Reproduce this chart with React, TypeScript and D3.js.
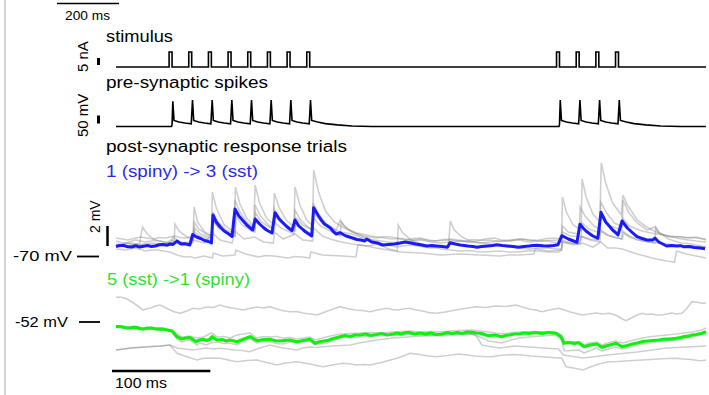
import React from "react";
import * as d3 from "d3";

// time in ms, traces as [t, value]
const stimTimes = [54, 74, 94, 114, 134, 154, 174, 194, 448, 468, 488, 508];
const stimAmp = 10; // nA
const stimWidth = 3; // ms

const preSpikes: [number, number][] = [
  [0, -65], [56.5, -65], [57, -58], [57.8, 30], [59, -42], [64, -48], [70, -52], [76.5, -55],
  [77.8, 35], [79, -42], [84, -48], [90, -52], [96.5, -55],
  [97.8, 35], [99, -42], [104, -48], [110, -52], [116.5, -55],
  [117.8, 35], [119, -42], [124, -48], [130, -52], [136.5, -55],
  [137.8, 35], [139, -42], [144, -48], [150, -52], [156.5, -55],
  [157.8, 35], [159, -42], [164, -48], [170, -52], [176.5, -55],
  [177.8, 35], [179, -42], [184, -48], [190, -52], [196.5, -55],
  [197.8, 35], [199, -42], [205, -48], [213, -54], [225, -59], [240, -63], [260, -65],
  [450.5, -65], [451, -58], [451.8, 35], [453, -42], [458, -48], [464, -52], [470.5, -55],
  [471.8, 35], [473, -42], [478, -48], [484, -52], [490.5, -55],
  [491.8, 35], [493, -42], [498, -48], [504, -52], [510.5, -55],
  [511.8, 35], [513, -42], [519, -48], [527, -54], [539, -59], [554, -63], [574, -65], [600, -65],
];

// 1 (spiny) -> 3 (sst), mV above -70 mV
const blueMean: [number, number][] = [
  [0, -0.05], [4, 0.05], [8, 0.05], [12, -0.08], [16, -0.1], [20, 0.02], [24, -0.1], [28, -0.02],
  [32, 0.05], [36, -0.05], [40, 0], [44, 0.12], [48, 0.15], [52, 0.08], [55, 0.2], [58, 0.15],
  [62, 0.5], [66, 0.2], [70, 0.22], [75, 0.1], [78, 1.15], [82, 0.9], [86, 0.75], [90, 0.55], [94, 0.45], [97, 0.3],
  [98.6, 3.1], [102, 2.4], [106, 1.9], [110, 1.5], [114, 1.25], [118, 0.95], [121, 3.7], [125, 3.0],
  [129, 2.55], [133, 2.1], [136, 1.85], [139, 1.6], [141.5, 2.7], [146, 2.2], [150, 1.85], [153, 1.6],
  [158.6, 1.3], [161.7, 3.33], [166, 2.7], [170, 2.3], [173, 2.0], [176, 1.75], [179, 1.53],
  [182, 2.6], [186, 2.0], [190, 1.65], [193, 1.4], [196, 1.2], [199, 1.0], [201, 3.83], [206, 3.0],
  [209, 2.55], [212, 2.2], [215, 2.0], [218, 1.8], [221, 1.45], [224, 1.2], [228, 1.33], [231, 1.15],
  [234, 1.0], [239, 0.85], [245, 0.65], [249, 0.6], [253, 0.5], [255, 0.7], [260, 0.4], [266, 0.3],
  [271, 0.1], [277, 0.15], [283, 0.2], [289, 0.3], [294, 0.4], [300, 0.3], [305, 0.2], [311, 0.1],
  [316, 0], [321, 0.05], [326, 0], [332, -0.05], [337, -0.13], [339.7, 0.33], [345, 0.2], [350, 0.1],
  [354, 0.05], [358, 0], [363, -0.05], [367, -0.13], [372, -0.05], [378, 0], [383, 0.05], [387, 0.13],
  [393, 0.05], [398, 0], [404, -0.05], [409, -0.13], [415, -0.05], [420, 0], [424, 0.05], [428, 0.07],
  [434, 0.02], [440, 0], [445, 0.05], [449.5, 0.13], [453.5, 1.03], [457, 0.85], [460, 0.7],
  [464, 0.55], [468.8, 0.37], [471.8, 2.17], [475, 1.8], [478, 1.5], [482, 1.2], [485, 1.0],
  [490, 0.77], [493.2, 3.37], [498, 2.4], [502, 1.95], [505, 1.6], [508, 1.35], [510.5, 1.1],
  [514.6, 2.5], [520, 1.8], [525, 1.35], [529.8, 0.93], [535, 0.75], [540, 0.6], [546, 0.6],
  [548, 0.8], [552, 0.4], [556, 0.2], [560, 0], [565, 0.05], [570, 0], [574, 0.03],
  [577, -0.07], [583, -0.05], [588, -0.15], [594, -0.2], [599, -0.27],
];

const blueTrials: [number, number][][] = [
  [
    [0, 0.5], [5, 0.35], [10, 0.3], [15, 0.45], [20, 0.6], [25, 0.5], [30, 0.4], [38, 0.55], [45, 0.5],
    [50, 0.35], [55, 0.3], [60, 0.45], [65, 0.4], [72, 0.25], [78, 0.3],
    [79.5, 3.9], [83, 2.4], [90, 1.4], [97, 1.0], [98, 5.4], [102, 3.8], [110, 2.1], [120, 1.4],
    [121.5, 5.9], [126, 4.2], [133, 2.8], [140, 2.0], [141.5, 6.1], [146, 4.3], [153, 2.8], [160, 2.2],
    [161, 5.3], [166, 3.8], [173, 2.6], [181, 1.9], [182, 5.9], [187, 4.1], [194, 2.6], [200, 2.0],
    [201, 7.6], [206, 5.4], [213, 3.5], [222, 2.4], [232, 1.8], [245, 1.3], [260, 1.0], [270, 0.85],
    [280, 0.7], [290, 0.75], [300, 0.6], [310, 0.7], [320, 0.5], [330, 0.55], [340, 0.6], [350, 0.5],
    [360, 0.4], [370, 0.55], [380, 0.6], [390, 0.45], [400, 0.5], [410, 0.6], [420, 0.4], [430, 0.5],
    [440, 0.5], [447, 0.35], [453, 0.4], [454, 4.9], [458, 3.4], [465, 2.1], [473, 1.6], [474, 6.7],
    [478, 4.9], [485, 3.2], [492, 2.4], [493.5, 8.3], [498, 6.3], [505, 4.3], [514, 3.1], [515.5, 5.1],
    [520, 4.1], [530, 2.6], [538, 2.0], [545, 1.6], [552, 1.3], [560, 1.0], [568, 0.85], [575, 0.7],
    [582, 0.6], [590, 0.5], [600, 0.4],
  ],
  [
    [0, 0.8], [6, 0.7], [12, 0.6], [18, 0.75], [25, 0.9], [31, 0.8], [38, 0.7], [44, 0.85], [50, 0.8],
    [55, 0.9], [60, 1.0], [65, 0.85], [70, 0.8], [79, 0.9],
    [79.5, 2.4], [84, 1.7], [92, 1.2], [98, 1.0], [98.6, 3.4], [103, 2.5], [112, 1.6], [120, 1.3],
    [121, 4.6], [126, 3.4], [134, 2.3], [141, 1.8], [141.5, 4.1], [147, 3.0], [155, 2.1], [160, 1.8],
    [160.7, 3.8], [166, 2.8], [174, 2.0], [181, 1.6], [182, 3.6], [187, 2.7], [195, 1.9], [200, 1.6],
    [200.5, 4.3], [206, 3.2], [214, 2.2], [224, 1.6], [228, 2.6], [232, 2.0], [240, 1.4], [252, 1.0],
    [258, 0.9], [265, 0.8], [272, 0.95], [280, 0.9], [288, 0.75], [295, 0.6], [302, 0.75], [310, 0.8],
    [318, 0.6], [325, 0.5], [333, 0.65], [340, 0.7], [348, 0.6], [355, 0.5], [362, 0.65], [370, 0.6],
    [378, 0.75], [385, 0.8], [392, 0.6], [400, 0.5], [408, 0.65], [415, 0.7], [422, 0.55], [430, 0.6],
    [438, 0.75], [445, 0.8], [453, 0.7], [454, 2.0], [460, 1.4], [471, 1.2], [472, 3.9], [477, 3.0],
    [486, 2.0], [492, 1.7], [493, 4.4], [499, 3.3], [507, 2.3], [515, 1.9], [515.5, 4.6], [521, 3.4],
    [530, 2.3], [540, 1.6], [548, 1.9], [552, 1.3], [558, 1.1], [565, 0.9], [572, 0.95], [580, 0.8],
    [590, 0.9], [600, 0.6],
  ],
  [
    [0, -0.3], [5, -0.35], [10, -0.4], [15, -0.3], [20, -0.2], [25, -0.35], [30, -0.5], [36, -0.4],
    [42, -0.4], [48, -0.5], [55, -0.6], [62, -0.9], [70, -1.1], [75, -1.05],
    [80, -1.2], [90, -1.0], [98, -1.2], [99, -0.7], [108, -1.0], [121, -0.9], [122, -0.4], [132, -0.8],
    [145, -1.1], [152, -0.95], [160, -1.0], [168, -1.1], [175, -1.2], [182, -1.05], [190, -1.1],
    [197, -1.2], [198, -0.6], [210, -0.9], [220, -0.95], [230, -1.0], [238, -1.05], [244, -1.1],
    [246, 0.1], [255, 0], [262, 0.1], [270, 0.2], [278, 0.05], [285, -0.1], [292, 0.0], [300, 0.1],
    [310, -0.05], [320, -0.2], [330, -0.1], [338, -0.1], [340, 2.5], [344, 1.6], [352, 0.9], [358, 0.6],
    [365, 0.4], [372, 0.3], [380, 0.2], [390, 0.05], [400, -0.1], [410, -0.2], [420, -0.3], [430, -0.2],
    [440, -0.2], [447, -0.3], [453, -0.3], [454, 0.4], [462, 0.3], [470, 0.2], [474, 0.9], [482, 0.7],
    [490, 0.6], [493, 1.5], [499, 1.1], [505, 0.9], [515, 0.7], [516, 1.3], [522, 0.9], [530, 0.6],
    [540, 0.45], [550, 0.3], [560, 0.2], [570, 0.1], [578, 0.05], [585, 0], [592, -0.05], [600, -0.1],
  ],
  [
    [0, 0.2], [6, 0.1], [12, 0.0], [18, 0.15], [24, 0.3], [27, 1.9], [31, 1.3], [38, 0.7], [44, 0.5],
    [50, 0.4], [55, 0.35], [59, 0.3], [60, 2.2],
    [64, 1.5], [72, 0.9], [79, 0.8], [80, 1.8], [86, 1.2], [97, 0.8], [98, 2.6], [104, 1.8], [114, 1.2],
    [121, 1.0], [122, 3.0], [128, 2.1], [138, 1.5], [141, 1.4], [142, 2.5], [150, 1.8], [160, 1.3],
    [161, 2.4], [168, 1.8], [181, 1.2], [182, 2.2], [190, 1.6], [200, 1.2], [201, 2.8], [208, 2.0],
    [220, 1.4], [228, 1.0], [229, 2.4], [235, 1.7], [245, 1.2], [252, 0.9], [260, 0.6], [268, 0.2],
    [275, -0.2], [280, -0.35], [286, -0.5], [287, 2.1], [291, 1.4], [300, 0.6], [308, 0.3], [315, 0.1],
    [322, -0.1], [330, -0.3], [340, -0.4], [350, -0.5], [360, -0.45], [370, -0.6], [380, -0.55],
    [390, -0.5], [400, -0.6], [410, -0.6], [420, -0.45], [430, -0.5], [440, -0.6], [450, -0.6], [453, -0.4], [454, 0.6], [462, 0.3], [472, 0.2], [473, 1.0],
    [482, 0.6], [492, 0.4], [493, 1.6], [500, 1.1], [514, 0.7], [515, 1.5], [522, 1.0], [535, 0.5],
    [548, 0.3], [549, 1.9], [553, 1.3], [562, 0.7], [568, 0.5], [575, 0.3], [582, 0.25], [590, 0.1],
    [600, -0.1],
  ],
  [
    [0, 0.1], [8, 0.2], [15, 0.3], [22, 0.15], [30, 0.0], [38, 0.1], [45, 0.2], [55, 0.1], [58, 0.9],
    [65, 0.4], [75, 0.2], [79, 0.6],
    [90, 0.3], [98, 1.3], [106, 0.6], [118, 0.3], [121, 1.5], [130, 0.7], [141, 0.9], [150, 0.4],
    [160, 0.3], [161, 1.4], [170, 0.7], [182, 1.2], [190, 0.6], [200, 0.5], [201, 1.8], [210, 1.0],
    [218, 0.7], [225, 0.5], [232, 0.35], [240, 0.2], [248, 0.1], [255, 0.0], [262, -0.15], [270, -0.3],
    [280, -0.45], [290, -0.6], [300, -0.65], [310, -0.7], [320, -0.8], [330, -0.9], [340, -0.85],
    [350, -0.8], [360, -0.85], [370, -0.9], [380, -0.95], [390, -1.0], [400, -0.9], [410, -0.9],
    [418, -0.85], [425, -0.8], [426, -0.3], [433, -0.4], [440, -0.5], [447, -0.45], [453, -0.4], [454, 0.4],
    [465, 0.1], [474, 0.3], [485, -0.1], [493, 0.4], [500, -0.2], [508, -0.2], [515, -0.3], [522, -0.55],
    [530, -0.8], [538, -1.0], [545, -1.2], [552, -1.35], [560, -1.5], [568, -1.6], [570, -0.5],
    [575, -0.65], [580, -0.8], [585, -0.9], [590, -1.0], [595, -1.1], [600, -1.2],
  ],
  [
    [0, 0.0], [5, 0.15], [10, 0.3], [15, 0.2], [20, 0.1], [28, 0.2], [35, 0.3], [42, 0.25], [50, 0.2],
    [56, 0.6], [62, 0.3], [70, 0.35], [78, 0.4], [79, 1.5],
    [85, 1.0], [97, 0.6], [98, 2.7], [104, 1.9], [115, 1.2], [121, 1.0], [122, 3.5], [128, 2.5],
    [138, 1.7], [141, 1.5], [142, 3.3], [148, 2.4], [159, 1.7], [161, 1.6], [162, 3.0], [168, 2.3],
    [180, 1.6], [182, 1.5], [183, 2.8], [190, 2.1], [200, 1.6], [201, 3.4], [207, 2.6], [218, 1.8],
    [228, 1.4], [240, 1.2], [248, 0.9], [255, 0.7], [262, 0.6], [270, 0.5], [280, 0.35], [290, 0.4],
    [300, 0.5], [310, 0.6], [320, 0.4], [330, 0.3], [340, 0.4], [350, 0.5], [360, 0.4], [370, 0.3],
    [380, 0.4], [390, 0.5], [400, 0.6], [410, 0.7], [420, 0.6], [430, 0.5], [440, 0.55], [450, 0.6],
    [454, 1.4], [462, 1.0], [473, 0.9],
    [474, 2.3], [481, 1.7], [492, 1.3], [493, 2.9], [500, 2.1], [514, 1.6], [515, 2.8], [522, 2.0],
    [535, 1.5], [542, 1.35], [550, 1.2], [562, 1.0], [568, 0.95], [575, 0.9], [582, 0.85], [590, 0.8],
    [600, 0.7],
  ],
];

// 5 (sst) -> 1 (spiny), mV relative to -52 mV
const greenMean: [number, number][] = [
  [0, -0.47], [4, -0.45], [7, -0.5], [10, -0.58], [14.2, -0.6], [18, -0.52], [21, -0.55], [24, -0.65],
  [27.5, -0.7], [32, -0.6], [37, -0.62], [42, -0.72], [46.8, -0.7], [52, -0.8], [57, -0.9],
  [62, -1.47], [67, -1.7], [71, -1.6], [75.3, -1.57], [81.4, -1.97], [85, -1.8], [88.5, -1.73],
  [92, -1.85], [95.6, -1.73], [97.6, -1.47], [102.7, -1.8], [108, -1.75], [112, -1.9], [116, -1.8],
  [123, -1.97], [130, -1.7], [136.3, -1.47], [143.4, -1.87], [150, -1.75], [156.6, -1.73],
  [163, -1.9], [169.8, -1.87], [177, -1.8], [184, -1.97], [190, -1.85], [197.3, -1.73], [202.4, -2.13],
  [208, -1.95], [214.6, -1.87], [221, -1.65], [227.8, -1.47], [233, -1.35], [238, -1.45], [243, -1.3],
  [248, -1.3], [254, -1.2], [259, -1.35], [265, -1.25], [270, -1.15], [276, -1.3], [281.7, -1.2],
  [286, -1.1], [290, -1.2], [295, -1.05], [299, -1.07], [304, -1.2], [309, -1.1], [315, -1.2],
  [320, -1.1], [326, -1.25], [331.5, -1.2], [337, -1.05], [342, -1.15], [347, -1.05], [352, -1.15],
  [357, -1.0], [362, -1.03], [367, -1.1], [372, -1.15], [376, -1.3], [379.3, -1.37], [385, -1.3],
  [392.5, -1.47], [396, -1.35], [400, -1.3], [405, -1.2], [409.8, -1.2], [415, -1.1], [420, -1.15],
  [426, -1.05], [433.2, -1.13], [440, -1.05], [447.4, -1.13], [452.5, -1.47], [455.6, -2.13],
  [460, -2.05], [466, -2.15], [470.8, -2.07], [476, -2.47], [482, -2.3], [489, -2.2], [494.2, -2.53],
  [500, -2.35], [504, -2.25], [508.5, -2.13], [514.6, -2.47], [520, -2.35], [525, -2.2], [530, -2.1],
  [534.9, -1.97], [540, -1.9], [546, -1.85], [552, -1.8], [558, -1.7], [563, -1.72], [569.5, -1.63],
  [574, -1.55], [578, -1.45], [582, -1.42], [585.7, -1.3], [590, -1.25], [596, -1.13], [600, -0.97],
];

const greenTrials: [number, number][][] = [
  [
    [0, 2.47], [4, 2.5], [9.2, 2.37], [13, 2.2], [18, 1.9], [22, 1.6], [27.5, 1.2], [32, 1.35], [36, 1.4],
    [40, 1.6], [44.7, 1.7], [50, 1.45], [55, 1.2], [60, 1.0], [65.1, 0.87], [72, 1.1], [78.3, 1.37],
    [85, 1.3], [92, 1.5], [99, 1.45], [105.8, 1.7], [112, 1.5], [118, 1.4], [124, 1.3], [129.2, 1.2],
    [136, 1.35], [143, 1.5], [150, 1.4], [156.6, 1.53], [162, 1.35], [167, 1.2], [172, 1.1], [177, 1.03],
    [184, 1.05], [190, 0.9], [197, 0.8], [204.4, 0.7], [210, 0.9], [215, 1.1], [221, 1.3], [227.8, 1.53],
    [235, 1.35], [243, 1.2], [250, 1.15], [258.3, 1.03], [266, 1.2], [275.6, 1.37], [281, 1.25],
    [287, 1.2], [292, 1.3], [298, 1.37], [305, 1.2], [312, 1.1], [318, 0.95], [325.4, 0.87], [335, 1.0],
    [345, 1.2], [355, 1.35], [366.1, 1.53], [376, 1.45], [386, 1.6], [396, 1.55], [406.8, 1.7],
    [413, 1.5], [420, 1.3], [427, 1.2], [433.2, 1.03], [441, 1.2], [450.5, 1.37], [456, 1.2], [462, 1.0],
    [468, 0.85], [473.9, 0.7], [481, 0.8], [488, 0.9], [495, 0.8], [501.4, 0.87], [506, 0.75],
    [510, 0.6], [514, 0.35], [518.6, 0.13], [522, 0.3], [526, 0.5], [530, 0.7], [534.9, 0.87],
    [540, 0.75], [545, 0.8], [550, 0.7], [555.3, 0.7], [560, 0.8], [565, 0.9], [570, 0.8], [575.6, 0.87],
    [580, 1.3], [585.7, 2.03], [590, 2.0], [596, 1.87], [600, 1.9],
  ],
  [
    [0, -0.5], [7, -0.6], [14, -0.7], [20, -0.65], [27, -0.8], [37, -0.7], [47, -0.8], [52, -0.85],
    [57, -1.0], [62, -1.7], [67, -2.0], [71, -1.85], [75, -1.8], [79, -2.05],
    [82, -2.3], [85, -2.1], [89, -2.2], [92, -2.3], [96, -2.1], [100, -2.05], [103, -2.0], [110, -2.15],
    [116, -2.1], [123, -2.3], [130, -1.9], [136, -1.6], [140, -1.9], [143, -2.1], [150, -1.95],
    [157, -2.0], [163, -2.15], [170, -2.2], [177, -2.0], [184, -2.1], [190, -2.0], [197, -1.9],
    [203, -2.3], [209, -2.15], [215, -2.1], [221, -1.8], [228, -1.6], [238, -1.55], [248, -1.5],
    [258, -1.45], [270, -1.35], [282, -1.3], [290, -1.35], [299, -1.2], [308, -1.3], [318, -1.35],
    [331, -1.4], [340, -1.3], [350, -1.25], [362, -1.2], [370, -1.5], [379, -1.9], [386, -2.0],
    [392, -2.1], [400, -1.85], [410, -1.6], [420, -1.5], [433, -1.4], [440, -1.35], [447, -1.3],
    [453, -1.8], [456, -2.9], [463, -2.85], [471, -2.8], [476, -3.1], [482, -2.85], [489, -2.6],
    [494, -2.9], [500, -2.75], [508, -2.5], [515, -2.7], [525, -2.45], [535, -2.2], [545, -2.05],
    [555, -1.95], [570, -1.8], [578, -1.65], [586, -1.5], [593, -1.35], [600, -1.2],
  ],
  [
    [0, -0.4], [7, -0.45], [14, -0.5], [20, -0.45], [27, -0.6], [37, -0.55], [47, -0.6], [52, -0.7],
    [57, -0.8], [62, -1.2], [67, -1.5], [75, -1.4],
    [82, -1.6], [89, -1.5], [97, -1.1], [103, -1.5], [110, -1.45], [116, -1.6], [123, -1.3], [130, -1.2],
    [136, -1.1], [143, -1.6], [150, -1.45], [157, -1.5], [163, -1.45], [170, -1.6], [177, -1.55],
    [184, -1.7], [190, -1.6], [197, -1.5], [203, -1.8], [210, -1.6], [218, -1.4], [228, -1.2],
    [238, -1.15], [248, -1.1], [258, -1.05], [270, -1.1], [282, -1.0], [290, -0.95], [299, -0.9],
    [310, -1.0], [320, -0.95], [331, -1.0], [340, -0.9], [350, -0.85], [362, -0.8], [370, -0.9],
    [379, -1.0], [386, -1.1], [392, -1.2], [400, -1.1], [410, -1.0], [420, -0.95], [433, -1.0],
    [440, -0.95], [447, -1.0], [453, -1.3], [456, -2.0], [463, -1.95], [471, -2.0], [476, -2.3],
    [482, -2.1], [489, -2.0], [494, -2.3], [500, -2.1], [508, -1.9], [515, -2.1], [525, -1.85],
    [535, -1.6], [545, -1.45], [555, -1.35], [570, -1.2], [578, -1.1], [586, -1.0], [596, -0.8],
    [600, -0.6],
  ],
  [
    [0, -2.8], [8, -2.7], [15, -2.6], [22, -2.55], [31.5, -2.5], [38, -2.45], [45, -2.4], [50, -2.35],
    [55, -2.3], [62, -2.6], [70, -2.7], [78.3, -2.8],
    [85, -2.7], [92, -2.6], [99, -2.7], [105.8, -2.63], [113, -2.7], [120, -2.8], [128, -2.85],
    [136, -2.97], [146, -2.6], [156.6, -2.3], [163, -2.45], [170, -2.6], [177, -2.7], [184, -2.8],
    [190, -2.6], [197, -2.5], [204, -2.55], [210.5, -2.47], [220, -2.4], [229, -2.35], [238, -2.3],
    [250, -2.05], [265, -1.8], [274, -1.7], [282, -1.6], [290, -1.55], [299, -1.47], [312, -1.4],
    [325, -1.3], [337, -1.25], [350, -1.15], [358, -1.2], [366, -1.3], [372, -2.3], [380, -2.45],
    [390, -2.6], [398, -2.5], [405, -2.4], [412, -2.45], [420, -2.5], [428, -2.55], [435, -2.6],
    [442, -2.65], [450, -2.7], [455, -3.3], [465, -3.45], [475, -3.6], [488, -3.45], [500, -3.3],
    [515, -3.15], [530, -3.0], [545, -2.8], [560, -2.6], [570, -2.55], [580, -2.5], [590, -2.45],
    [600, -2.4],
  ],
  [
    [0, -2.8], [8, -2.7], [15, -2.6], [22, -2.55], [31.5, -2.47], [38, -2.42], [45, -2.4],
    [54.9, -2.3], [62, -3.13], [70, -3.4], [76, -3.6], [82.4, -3.8], [88, -3.65],
    [95, -3.6], [105.8, -3.63], [114, -3.8], [123, -3.97], [133, -3.85], [143.4, -3.8], [153, -4.05],
    [163.7, -4.3], [173, -4.1], [184, -3.97], [197, -4.2], [204, -4.35], [210.5, -4.47], [220, -4.3],
    [230.8, -4.13], [238, -4.2], [245, -4.3], [252, -4.25], [258.3, -4.3], [265, -4.15], [272, -4.0],
    [279, -3.8], [285.8, -3.63], [292, -3.4], [299, -3.13], [305, -3.2], [312, -3.3], [318, -3.4],
    [325.4, -3.47], [337, -3.35], [348.8, -3.2], [357, -3.3], [365, -3.4], [373, -3.45], [382.4, -3.47],
    [390, -3.35], [397, -3.3], [405, -3.25], [412.9, -3.3], [422, -3.4], [433.2, -3.47], [443, -3.55],
    [453.6, -3.63], [457.6, -4.47], [465, -4.6], [474.9, -4.8], [481, -4.55], [488, -4.3],
    [495, -4.1], [501.4, -3.97], [510, -3.95], [518, -3.9], [526, -3.85], [534.9, -3.8], [543, -3.75],
    [552, -3.7], [560, -3.65], [569.5, -3.63], [577, -3.7], [585, -3.75], [592, -3.85], [596, -3.87],
    [600, -3.8],
  ],
];

const W = 709;
const H = 395;
const font = "'Liberation Sans', Arial, sans-serif";

const x = d3.scaleLinear().domain([0, 600]).range([116, 706]);
const yStim = d3.scaleLinear().domain([0, stimAmp]).range([67, 52]);
const ySpike = d3.scaleLinear().domain([-65, 35]).range([126.5, 100]);
const yBlue = d3.scaleLinear().domain([0, 2]).range([246, 226]);
const yGreen = d3.scaleLinear().domain([0, 1]).range([322, 312]);

function stimPoints(): [number, number][] {
  const pts: [number, number][] = [[0, 0]];
  stimTimes.forEach((t) => {
    pts.push([t, 0], [t, stimAmp], [t + stimWidth, stimAmp], [t + stimWidth, 0]);
  });
  pts.push([600, 0]);
  return pts;
}

const App = () => {
  const lineStim = d3.line<[number, number]>().x((d) => x(d[0])).y((d) => yStim(d[1]));
  const lineSpike = d3.line<[number, number]>().x((d) => x(d[0])).y((d) => ySpike(d[1]));
  const lineBlue = d3.line<[number, number]>().x((d) => x(d[0])).y((d) => yBlue(d[1]));
  const lineGreen = d3.line<[number, number]>().x((d) => x(d[0])).y((d) => yGreen(d[1]));

  const msBar = x(100) - x(0);

  return (
    <svg
      width={W}
      height={H}
      style={{ position: "absolute", left: 0, top: 0, background: "#fff" }}
      fontFamily={font}
    >
      <line x1={5} x2={5} y1={0} y2={H} stroke="#c4c4c4" strokeWidth={1.5} />

      {/* top scale bar */}
      <line x1={57} x2={119} y1={3.5} y2={3.5} stroke="#000" strokeWidth={1.5} />
      <text x={65} y={19.5} fontSize={13.5} textLength={45} lengthAdjust="spacingAndGlyphs">200 ms</text>

      {/* stimulus */}
      <text x={106} y={42} fontSize={16} textLength={67} lengthAdjust="spacingAndGlyphs">stimulus</text>
      <text transform="translate(88,72) rotate(-90)" fontSize={15}>5 nA</text>
      <line x1={98.5} x2={98.5} y1={58} y2={65} stroke="#000" strokeWidth={3} />
      <path d={lineStim(stimPoints()) || ""} fill="none" stroke="#000" strokeWidth={1.6} />

      {/* pre-synaptic */}
      <text x={106} y={87.5} fontSize={16} textLength={162} lengthAdjust="spacingAndGlyphs">pre-synaptic spikes</text>
      <text transform="translate(88,137) rotate(-90)" fontSize={15}>50 mV</text>
      <line x1={98.5} x2={98.5} y1={115.5} y2={123.5} stroke="#000" strokeWidth={3} />
      <path d={lineSpike(preSpikes) || ""} fill="none" stroke="#000" strokeWidth={1.6} />

      {/* post-synaptic */}
      <text x={106} y={152} fontSize={16} textLength={241} lengthAdjust="spacingAndGlyphs">post-synaptic response trials</text>
      <text x={106} y={176.5} fontSize={16} fill="#2a2ae8" textLength={152} lengthAdjust="spacingAndGlyphs">1 (spiny) -&gt; 3 (sst)</text>
      <text transform="translate(100,233) rotate(-90)" fontSize={14}>2 mV</text>
      <line x1={107.5} x2={107.5} y1={226} y2={246} stroke="#000" strokeWidth={2.5} />
      <text x={13} y={261} fontSize={15} textLength={59} lengthAdjust="spacingAndGlyphs">-70 mV</text>
      <line x1={77} x2={99} y1={256.5} y2={256.5} stroke="#000" strokeWidth={1.8} />
      {blueTrials.map((tr, i) => (
        <path key={i} d={lineBlue(tr) || ""} fill="none" stroke="#8c8c8c" strokeOpacity={0.42} strokeWidth={1.6} />
      ))}
      <path d={lineBlue(blueMean) || ""} fill="none" stroke="#1a1aff" strokeWidth={3} strokeLinejoin="round" />

      <text x={107} y={285} fontSize={16} fill="#2fe02f" textLength={143} lengthAdjust="spacingAndGlyphs">5 (sst) -&gt;1 (spiny)</text>
      <text x={15} y={327} fontSize={15} textLength={53} lengthAdjust="spacingAndGlyphs">-52 mV</text>
      <line x1={79} x2={100} y1={322} y2={322} stroke="#000" strokeWidth={1.8} />
      {greenTrials.map((tr, i) => (
        <path key={i} d={lineGreen(tr) || ""} fill="none" stroke="#8c8c8c" strokeOpacity={0.42} strokeWidth={1.6} />
      ))}
      <path d={lineGreen(greenMean) || ""} fill="none" stroke="#10f010" strokeWidth={3.2} strokeLinejoin="round" />

      {/* bottom scale bar */}
      <line x1={112} x2={112 + msBar} y1={371} y2={371} stroke="#000" strokeWidth={2.5} />
      <text x={115} y={388} fontSize={15} textLength={52} lengthAdjust="spacingAndGlyphs">100 ms</text>
    </svg>
  );
};

export default App;
